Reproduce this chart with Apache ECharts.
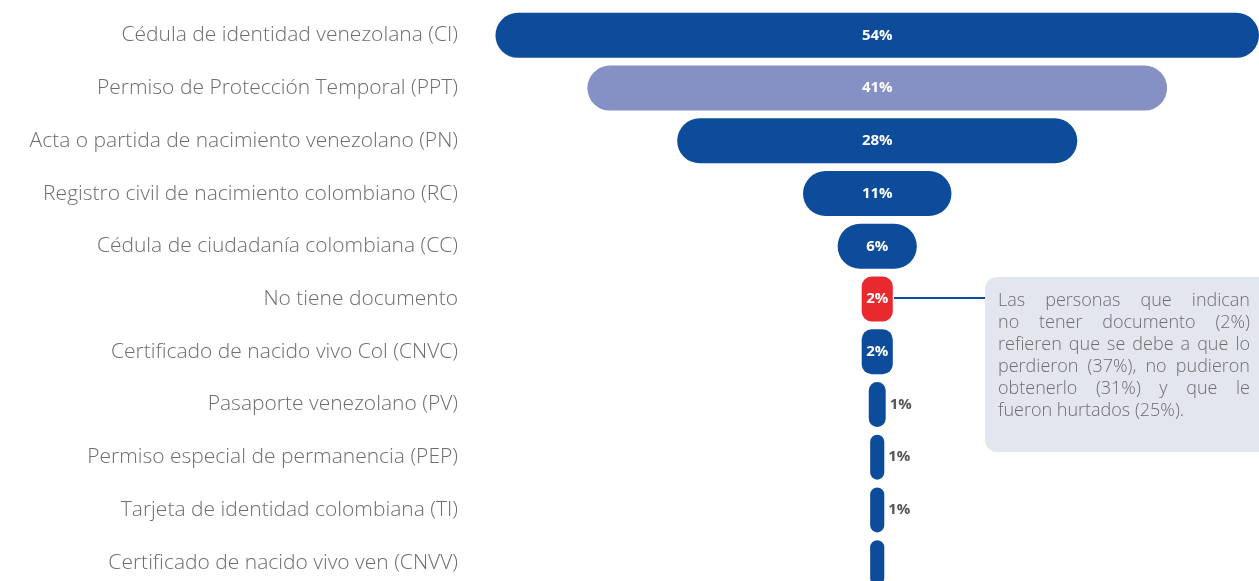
<!DOCTYPE html>
<html>
<head>
<meta charset="utf-8">
<script src="https://cdn.jsdelivr.net/npm/echarts@6/dist/echarts.min.js"></script>
<style>
  html, body { margin: 0; padding: 0; background: #fff; }
  #chart { width: 1259px; height: 581px; }
</style>
</head>
<body>
<div id="chart"></div>
<script>
var categories = [
  'Cédula de identidad venezolana (CI)',
  'Permiso de Protección Temporal (PPT)',
  'Acta o partida de nacimiento venezolano (PN)',
  'Registro civil de nacimiento colombiano (RC)',
  'Cédula de ciudadanía colombiana (CC)',
  'No tiene documento',
  'Certificado de nacido vivo Col (CNVC)',
  'Pasaporte venezolano (PV)',
  'Permiso especial de permanencia (PEP)',
  'Tarjeta de identidad colombiana (TI)',
  'Certificado de nacido vivo ven (CNVV)'
]
var values = [54, 41, 28.3, 10.5, 5.6, 2.2, 2.2, 1.2, 1, 1, 1]
var valueLabels = ['54%', '41%', '28%', '11%', '6%', '2%', '2%', '1%', '1%', '1%', '']

var noteLines = [
  'Las personas que indican',
  'no tener documento (2%)',
  'refieren que se debe a que lo',
  'perdieron (37%), no pudieron',
  'obtenerlo (31%) y que le',
  'fueron hurtados (25%).'
]

var blue = '#0d4c9b'
var lilac = '#8590c4'
var red = '#e8292e'
var FONT = '"Open Sans", Lato, sans-serif'

// bars are centred on half of this width
var span = 57.6

var chart = echarts.init(document.getElementById('chart'))

var offsets = values.map(function (v) { return (span - v) / 2 })

var barData = values.map(function (v, i) {
  var color = blue
  if (i === 1) color = lilac
  if (i === 5) color = red
  var small = v < 2
  return {
    value: v,
    itemStyle: {
      color: color,
      borderRadius: (i === 5 || i === 6) ? 10 : 23
    },
    label: {
      show: valueLabels[i] !== '',
      position: small ? 'right' : 'inside',
      color: small ? '#555' : '#fff',
      distance: 4,
      formatter: valueLabels[i]
    }
  }
})

// justified note text: each word placed separately
var noteFont = '300 18px ' + FONT
var ctx = document.createElement('canvas').getContext('2d')
ctx.font = noteFont
var noteLeft = 998
var noteWidth = 252
var noteGraphics = []
noteLines.forEach(function (line, i) {
  var words = line.split(' ')
  var y = 292 + i * 22
  var last = i === noteLines.length - 1
  var total = 0
  words.forEach(function (w) { total += ctx.measureText(w).width })
  var gap = ctx.measureText(' ').width
  if (!last && words.length > 1) gap = (noteWidth - total) / (words.length - 1)
  var x = noteLeft
  words.forEach(function (w) {
    noteGraphics.push({
      type: 'text',
      x: x,
      y: y,
      style: { text: w, font: noteFont, fill: '#6d6d6d' }
    })
    x += ctx.measureText(w).width + gap
  })
})

var option = {
  animation: false,
  grid: { left: 470, right: 0, top: 9, height: 580, containLabel: false, outerBoundsMode: 'none' },
  xAxis: {
    type: 'value',
    min: 0,
    max: 55.8,
    show: false
  },
  yAxis: {
    type: 'category',
    data: categories,
    inverse: true,
    axisLine: { show: false },
    axisTick: { show: false },
    axisLabel: {
      margin: 12,
      fontSize: 21,
      fontWeight: 300,
      fontFamily: FONT,
      color: '#6d6d6d'
    }
  },
  series: [
    {
      type: 'bar',
      stack: 'f',
      data: offsets,
      barWidth: 45,
      itemStyle: { color: 'transparent' },
      silent: true
    },
    {
      type: 'bar',
      stack: 'f',
      data: barData,
      barWidth: 45,
      label: {
        fontSize: 15,
        fontWeight: 'bold',
        fontFamily: FONT
      }
    }
  ],
  graphic: [
    {
      type: 'rect',
      shape: { x: 985, y: 277, width: 290, height: 175, r: 12 },
      style: { fill: '#e3e6ef' }
    },
    {
      type: 'line',
      shape: { x1: 894, y1: 298, x2: 985, y2: 298 },
      style: { stroke: blue, lineWidth: 2 }
    }
  ].concat(noteGraphics)
}

chart.setOption(option)
</script>
</body>
</html>
